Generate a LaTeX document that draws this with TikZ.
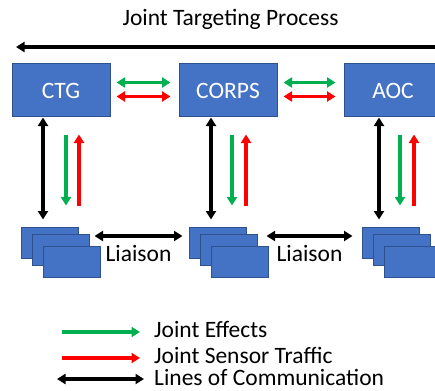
\documentclass[tikz,border=0pt]{standalone}
\usepackage{fontspec}
\setmainfont{Carlito}
\usetikzlibrary{arrows.meta}
\definecolor{boxblue}{HTML}{4472C4}
\definecolor{boxedge}{HTML}{2F528F}
\definecolor{effectgreen}{HTML}{00B050}
\definecolor{sensorred}{HTML}{FF0000}

\begin{document}
\begin{tikzpicture}[x=1pt, y=-1pt,
	>={Triangle[length=8.5pt,width=10pt]},
	txt/.style={inner sep=0pt, font=\fontsize{23.5}{28}\selectfont},
	unit/.style={txt, draw=boxedge, line width=1pt, fill=boxblue, text=white, minimum width=98pt, minimum height=53pt},
	cell/.style={draw=boxedge, line width=1pt, fill=boxblue, minimum width=57pt, minimum height=31pt, inner sep=0pt},
	comm/.style={draw=black, line width=3.2pt},
	effect/.style={draw=effectgreen, line width=3.2pt},
	sensor/.style={draw=sensorred, line width=3.2pt}]
	\clip (0,0) rectangle (435,390);

	% process
	\node[txt, anchor=base] (title) at (230.5,26) {Joint Targeting Process};
	\coordinate (flowIn) at (440,47);
	\coordinate (flowOut) at (16,47);
	\draw[comm, ->] (flowIn) -- (flowOut);

	\foreach \n/\x/\t in {ctg/61/CTG, corps/228/CORPS, aoc/393/AOC}{
		\node[unit] (\n) at (\x,90.5) {\t};
	}
	\foreach \a/\b in {ctg/corps, corps/aoc}{
		\draw[effect, <->] ([xshift=6pt, yshift=8pt]\a.east) -- ([xshift=-8pt, yshift=8pt]\b.west);
		\draw[sensor, <->] ([xshift=6pt, yshift=-6pt]\a.east) -- ([xshift=-8pt, yshift=-6pt]\b.west);
	}

	% stacks
	\foreach \c/\x in {1/49.5, 2/217.5, 3/390.5}{
		\node[cell] (cell\c a) at (\x,242.5) {};
		\node[cell] (cell\c b) at (\x+11.5,249.5) {};
		\node[cell] (cell\c c) at (\x+22.5,261.5) {};
	}

	\foreach \n/\c/\k/\g/\r in {ctg/1/-18/5/18, corps/2/-17/4/18, aoc/3/-14/7/21}{
		\draw[comm, <->] ([xshift=\k pt]\n.south) -- ([xshift=\k pt, yshift=7pt]\n.south |- cell\c a.north);
		\draw[effect, ->] ([xshift=\g pt, yshift=-17pt]\n.south) -- ([xshift=\g pt, yshift=21pt]\n.south |- cell\c a.north);
		\draw[sensor, ->] ([xshift=\r pt, yshift=21pt]\n.south |- cell\c a.north) -- ([xshift=\r pt, yshift=-17pt]\n.south);
	}

	\foreach \a/\b/\p/\q in {1/2/16/-6, 2/3/20/-9}{
		\draw[comm, <->] ([xshift=\p pt, yshift=6.5pt]cell\a a.east) -- ([xshift=\q pt, yshift=6.5pt]cell\b a.west)
			node[midway, below=8pt, txt] (liaison\a) {Liaison};
	}

	% key
	\node[txt, anchor=base west] (keyEffect) at (154,337) {Joint Effects};
	\node[txt, anchor=base west] (keySensor) at (154,363) {Joint Sensor Traffic};
	\node[txt, anchor=base west] (keyComm) at (154,385) {Lines of Communication};
	\coordinate (keyEffectTail) at (62,332);
	\coordinate (keySensorTail) at (62,358);
	\coordinate (keyCommTail) at (57,379);
	\draw[effect, ->] (keyEffectTail) -- ([xshift=-14pt]keyEffect.west |- keyEffectTail);
	\draw[sensor, ->] (keySensorTail) -- ([xshift=-14pt]keySensor.west |- keySensorTail);
	\draw[comm, <->] (keyCommTail) -- ([xshift=-10pt]keyComm.west |- keyCommTail);
\end{tikzpicture}
\end{document}
